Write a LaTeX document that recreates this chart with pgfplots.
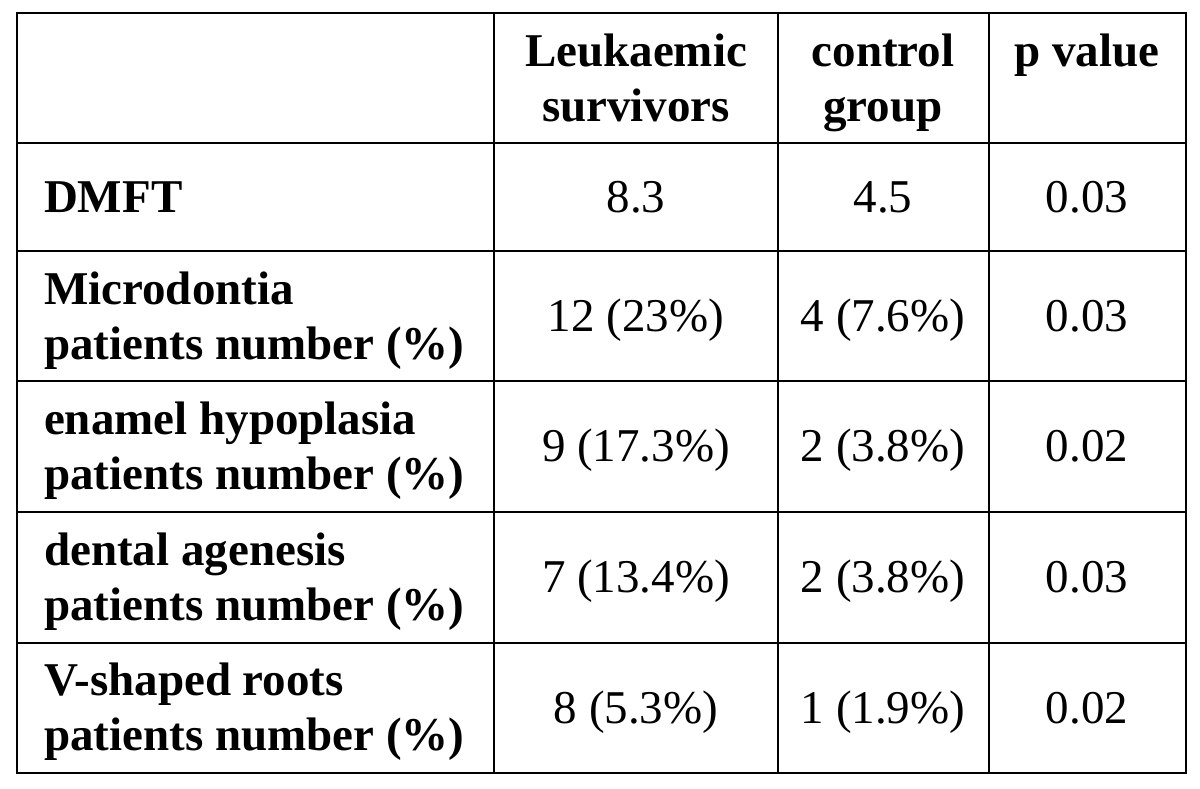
\documentclass[border=0pt]{standalone}
\usepackage{fontspec}
\setmainfont{Liberation Serif}
\usepackage{pgfplots}
\pgfplotsset{compat=1.18}
\begin{document}
\fontsize{23.5pt}{27.5pt}\selectfont
\begin{tikzpicture}
\begin{axis}[
  width=600pt, height=394pt, scale only axis,
  xmin=0, xmax=1200, ymin=0, ymax=788, y dir=reverse,
  hide axis, clip=false,
  every node/.style={inner sep=0pt, outer sep=0pt, font=\fontsize{23.5pt}{27.5pt}\selectfont}
]
\path[fill=white] (axis cs:0,0) rectangle (axis cs:1200,788);
% inner grid lines
\addplot[black, line width=1pt] coordinates {(494,13) (494,773)};
\addplot[black, line width=1pt] coordinates {(778,13) (778,773)};
\addplot[black, line width=1pt] coordinates {(989,13) (989,773)};
\addplot[black, line width=1pt] coordinates {(17,143) (1186,143)};
\addplot[black, line width=1pt] coordinates {(17,251) (1186,251)};
\addplot[black, line width=1pt] coordinates {(17,381) (1186,381)};
\addplot[black, line width=1pt] coordinates {(17,512) (1186,512)};
\addplot[black, line width=1pt] coordinates {(17,643) (1186,643)};
% outer border
\addplot[black, line width=1.3pt, line join=miter] coordinates {(17,13) (1186,13) (1186,773) (17,773)} -- cycle;
% header
\node[anchor=base, font=\bfseries\fontsize{23.5pt}{27.5pt}\selectfont] at (axis cs:636,66) {Leukaemic};
\node[anchor=base, font=\bfseries\fontsize{23.5pt}{27.5pt}\selectfont] at (axis cs:636,121) {survivors};
\node[anchor=base, font=\bfseries\fontsize{23.5pt}{27.5pt}\selectfont] at (axis cs:883,66) {control};
\node[anchor=base, font=\bfseries\fontsize{23.5pt}{27.5pt}\selectfont] at (axis cs:883,121) {group};
\node[anchor=base, font=\bfseries\fontsize{23.5pt}{27.5pt}\selectfont] at (axis cs:1087,66) {p value};
% row labels
\node[anchor=base west, font=\bfseries\fontsize{23.5pt}{27.5pt}\selectfont] at (axis cs:28,212) {DMFT};
\node[anchor=base west, font=\bfseries\fontsize{23.5pt}{27.5pt}\selectfont] at (axis cs:28,304) {Microdontia};
\node[anchor=base west, font=\bfseries\fontsize{23.5pt}{27.5pt}\selectfont] at (axis cs:28,359) {patients number (\%)};
\node[anchor=base west, font=\bfseries\fontsize{23.5pt}{27.5pt}\selectfont] at (axis cs:28,434) {enamel hypoplasia};
\node[anchor=base west, font=\bfseries\fontsize{23.5pt}{27.5pt}\selectfont] at (axis cs:28,489) {patients number (\%)};
\node[anchor=base west, font=\bfseries\fontsize{23.5pt}{27.5pt}\selectfont] at (axis cs:28,565) {dental agenesis};
\node[anchor=base west, font=\bfseries\fontsize{23.5pt}{27.5pt}\selectfont] at (axis cs:28,620) {patients number (\%)};
\node[anchor=base west, font=\bfseries\fontsize{23.5pt}{27.5pt}\selectfont] at (axis cs:28,695) {V-shaped roots};
\node[anchor=base west, font=\bfseries\fontsize{23.5pt}{27.5pt}\selectfont] at (axis cs:28,750) {patients number (\%)};
% body values
\node[anchor=base] at (axis cs:636,212) {8.3};
\node[anchor=base] at (axis cs:883,212) {4.5};
\node[anchor=base] at (axis cs:1087,212) {0.03};
\node[anchor=base] at (axis cs:636,331) {12 (23\%)};
\node[anchor=base] at (axis cs:883,331) {4 (7.6\%)};
\node[anchor=base] at (axis cs:1087,331) {0.03};
\node[anchor=base] at (axis cs:636,461) {9 (17.3\%)};
\node[anchor=base] at (axis cs:883,461) {2 (3.8\%)};
\node[anchor=base] at (axis cs:1087,461) {0.02};
\node[anchor=base] at (axis cs:636,592) {7 (13.4\%)};
\node[anchor=base] at (axis cs:883,592) {2 (3.8\%)};
\node[anchor=base] at (axis cs:1087,592) {0.03};
\node[anchor=base] at (axis cs:636,723) {8 (5.3\%)};
\node[anchor=base] at (axis cs:883,723) {1 (1.9\%)};
\node[anchor=base] at (axis cs:1087,723) {0.02};
\end{axis}
\end{tikzpicture}
\end{document}
